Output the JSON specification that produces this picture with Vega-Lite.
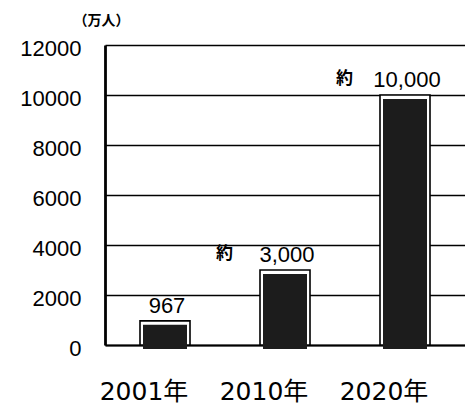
{
  "$schema": "https://vega.github.io/schema/vega-lite/v6.json",
  "autosize": "none",
  "width": 360,
  "height": 300,
  "padding": {"left": 105, "top": 45, "right": 0, "bottom": 60},
  "background": "white",
  "config": {"view": {"stroke": null}},
  "data": {
    "values": [
      {"year": "2001年", "value": 967, "label": "967", "prefix": ""},
      {"year": "2010年", "value": 3000, "label": "3,000", "prefix": "約"},
      {"year": "2020年", "value": 10000, "label": "10,000", "prefix": "約"}
    ]
  },
  "encoding": {
    "x": {
      "field": "year", "type": "nominal", "sort": null,
      "scale": {"paddingInner": 0, "paddingOuter": 0},
      "axis": {
        "title": null, "labelAngle": 0, "ticks": false,
        "domain": true, "domainColor": "black", "domainWidth": 2,
        "labelFont": "DejaVu Sans, Noto Sans CJK JP", "labelFontSize": 25,
        "labelColor": "black", "labelBaseline": "top", "labelPadding": 34,
        "labelOffset": -21
      }
    },
    "y": {
      "field": "value", "type": "quantitative",
      "scale": {"domain": [0, 12000], "nice": false},
      "axis": {
        "values": [0, 2000, 4000, 6000, 8000, 10000, 12000],
        "format": "d",
        "grid": true, "gridColor": "black", "gridWidth": 1.6, "gridOpacity": 1,
        "domain": true, "domainColor": "black", "domainWidth": 2.8,
        "ticks": false,
        "labelFont": "Liberation Sans", "labelFontSize": 22, "labelColor": "black",
        "labelPadding": 24, "labelOffset": 3,
        "title": "（万人）", "titleAngle": 0, "titleX": -4, "titleY": -25,
        "titleAlign": "center", "titleBaseline": "middle",
        "titleFont": "Noto Sans CJK JP", "titleFontSize": 14, "titleFontWeight": "bold",
        "titleColor": "black"
      }
    }
  },
  "layer": [
    {"mark": {"type": "bar", "width": 50, "fill": "white", "stroke": "black", "strokeWidth": 1.6}},
    {"mark": {"type": "bar", "width": 44, "fill": "#1c1c1c", "yOffset": 4, "y2Offset": -4}},
    {
      "mark": {"type": "text", "font": "Liberation Sans", "fontSize": 22, "color": "black", "align": "center", "baseline": "bottom", "dy": -3, "dx": 2},
      "encoding": {"text": {"field": "label"}}
    },
    {
      "transform": [{"filter": "datum.prefix != ''"}],
      "mark": {"type": "text", "font": "Noto Sans CJK JP", "fontSize": 17, "fontWeight": "bold", "color": "black", "align": "right", "baseline": "bottom", "dy": -7, "dx": -52},
      "encoding": {"text": {"field": "prefix"}}
    }
  ]
}
